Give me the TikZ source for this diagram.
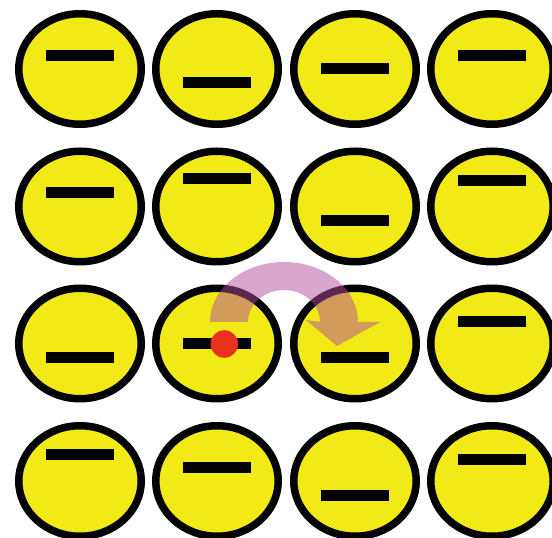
\documentclass[tikz,border=0pt]{standalone}
\usetikzlibrary{shapes.geometric}
\definecolor{cellyellow}{RGB}{242,234,22}
\definecolor{hoppink}{RGB}{180,78,160}
\definecolor{dotred}{RGB}{232,50,30}
\tikzset{
  cell/.style={ellipse, draw=black, line width=7.5pt, fill=cellyellow,
    minimum width=122.5pt, minimum height=110.5pt, inner sep=0pt},
  bar/.style={rectangle, fill=black, minimum width=68.6pt, minimum height=11pt, inner sep=0pt},
  dot/.style={circle, fill=dotred, minimum size=27.6pt, inner sep=0pt},
  hop/.style={fill=hoppink, fill opacity=0.5}
}
\begin{document}
\begin{tikzpicture}[x=1pt,y=1pt]
\useasboundingbox (0,0) rectangle (552,538);
\clip (0,0) rectangle (552,538);
% columns and rows
\def\cA{80}\def\cB{217}\def\cC{355}\def\cD{492}
\def\rA{469}\def\rB{331.5}\def\rC{194.5}\def\rD{57}
% row 1
\node[cell] (e11) at (\cA,\rA) {};
\node[cell] (e12) at (\cB,\rA) {};
\node[cell] (e13) at (\cC,\rA) {};
\node[cell] (e14) at (\cD,\rA) {};
% row 2
\node[cell] (e21) at (\cA,\rB) {};
\node[cell] (e22) at (\cB,\rB) {};
\node[cell] (e23) at (\cC,\rB) {};
\node[cell] (e24) at (\cD,\rB) {};
% row 3
\node[cell] (e31) at (\cA,\rC) {};
\node[cell] (e32) at (\cB,\rC) {};
\node[cell] (e33) at (\cC,\rC) {};
\node[cell] (e34) at (\cD,\rC) {};
% row 4
\node[cell] (e41) at (\cA,\rD) {};
\node[cell] (e42) at (\cB,\rD) {};
\node[cell] (e43) at (\cC,\rD) {};
\node[cell] (e44) at (\cD,\rD) {};
% bars
\node[bar] (b11) at ([yshift=13.5pt]e11.center) {};
\node[bar] (b12) at ([yshift=-14pt]e12.center) {};
\node[bar] (b13) at (e13.center) {};
\node[bar] (b14) at ([yshift=13.5pt]e14.center) {};
\node[bar] (b21) at ([yshift=13.7pt]e21.center) {};
\node[bar] (b22) at ([yshift=27.7pt]e22.center) {};
\node[bar] (b23) at ([yshift=-14pt]e23.center) {};
\node[bar] (b24) at ([yshift=25.7pt]e24.center) {};
\node[bar] (b31) at ([yshift=-14.3pt]e31.center) {};
\node[bar] (b32) at (e32.center) {};
\node[bar] (b33) at ([yshift=-14.3pt]e33.center) {};
\node[bar] (b34) at ([yshift=21.5pt]e34.center) {};
\node[bar] (b41) at ([yshift=26.5pt]e41.center) {};
\node[bar] (b42) at ([yshift=13pt]e42.center) {};
\node[bar] (b43) at ([yshift=-14.3pt]e43.center) {};
\node[bar] (b44) at ([yshift=21.3pt]e44.center) {};
% hop arrow
\coordinate (hc) at (284,216);
\fill[hop] ([xshift=-74pt]hc) arc[start angle=180, end angle=0, x radius=74, y radius=60]
  -- (380,216) -- (337,192) -- (306,218) -- ([xshift=36pt]hc)
  arc[start angle=0, end angle=180, x radius=36, y radius=32] -- cycle;
% red dot
\node[dot] (d) at (224.3,194) {};
\end{tikzpicture}
\end{document}
